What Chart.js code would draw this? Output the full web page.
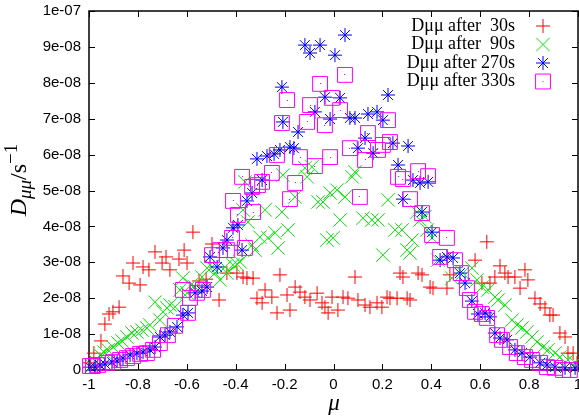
<!DOCTYPE html>
<html>
<head>
<meta charset="utf-8">
<script src="https://cdn.jsdelivr.net/npm/chart.js@4.4.1/dist/chart.umd.min.js"></script>
<style>
  html, body { margin: 0; padding: 0; background: #fff; }
  #c { display: block; }
</style>
</head>
<body>
<canvas id="c" width="579" height="418"></canvas>
<script>
// values of D in units of 1e-8 s^-1
const seriesLabels = ["D\u03bc\u03bc after  30s", "D\u03bc\u03bc after  90s", "D\u03bc\u03bc after 270s", "D\u03bc\u03bc after 330s"];

const muRed = [-0.996,-0.980,-0.951,-0.935,-0.918,-0.902,-0.877,-0.861,-0.836,-0.820,-0.791,-0.779,-0.755,-0.730,-0.701,-0.685,-0.669,-0.632,-0.611,-0.599,
  -0.575,-0.550,-0.521,-0.497,-0.468,-0.436,-0.395,-0.370,-0.354,-0.329,-0.313,-0.292,-0.280,-0.252,-0.231,-0.219,-0.190,-0.178,-0.157,-0.137,
  -0.117,-0.096,-0.067,-0.047,-0.035,-0.022,-0.006,0.018,0.039,0.059,0.088,0.100,0.129,0.149,0.178,0.198,0.219,0.231,0.260,0.272,
  0.284,0.301,0.313,0.346,0.362,0.395,0.407,0.464,0.476,0.579,0.607,0.627,0.640,0.660,0.681,0.701,0.714,0.742,0.763,0.783,
  0.795,0.824,0.845,0.865,0.885,0.898,0.926,0.947,0.959,0.980,0.996];
const dRed = [0.20,0.47,0.81,1.28,1.56,1.62,1.75,2.62,2.42,2.98,2.37,2.87,2.79,3.29,2.98,3.15,2.79,3.09,3.34,2.98,
  3.84,2.48,2.53,3.51,1.95,2.70,2.70,2.59,2.56,2.56,2.00,1.87,2.23,2.03,1.59,2.65,2.09,1.67,2.31,2.17,
  2.03,1.95,2.14,1.87,1.75,1.59,2.03,1.67,2.03,2.00,2.59,1.95,1.81,1.75,1.87,1.75,2.03,2.00,2.00,2.70,
  2.59,2.00,1.95,2.70,2.65,2.31,2.28,2.28,2.65,3.06,2.42,3.57,2.42,2.59,2.90,2.70,2.59,2.59,2.28,2.79,
  2.51,2.00,1.84,1.73,1.53,1.53,1.03,0.92,0.47,0.47,0.20];

const muGreen = [-0.988,-0.971,-0.955,-0.939,-0.922,-0.902,-0.881,-0.865,-0.845,-0.824,-0.804,-0.783,-0.763,-0.751,-0.730,-0.710,-0.697,-0.681,-0.669,-0.648,
  -0.628,-0.616,-0.599,-0.583,-0.566,-0.538,-0.517,-0.497,-0.485,-0.464,-0.444,-0.436,-0.411,-0.395,-0.382,-0.370,-0.362,-0.350,-0.333,-0.321,
  -0.301,-0.280,-0.268,-0.239,-0.227,-0.211,-0.207,-0.186,-0.157,-0.117,-0.108,-0.088,-0.063,-0.043,-0.027,-0.014,-0.002,0.014,0.027,0.047,
  0.076,0.088,0.121,0.157,0.182,0.202,0.223,0.252,0.280,0.301,0.313,0.321,0.342,0.354,0.374,0.382,0.403,0.427,0.484,0.529,
  0.566,0.587,0.607,0.632,0.660,0.673,0.701,0.730,0.750,0.771,0.791,0.812,0.832,0.857,0.877,0.906,0.926,0.959,0.988];
const dGreen = [0.11,0.22,0.42,0.50,0.56,0.64,0.75,0.81,0.92,1.03,1.06,1.11,1.17,1.25,1.89,1.39,1.62,1.73,1.81,1.76,
  2.23,2.56,2.15,2.37,2.31,2.59,2.84,2.87,2.70,2.51,2.87,2.70,2.93,2.95,3.01,4.46,5.24,4.12,3.48,3.34,
  3.70,4.46,3.68,3.82,3.40,4.40,5.43,3.90,4.82,5.63,5.38,5.66,4.68,4.68,3.62,4.93,3.68,5.01,4.18,4.82,
  5.38,5.52,4.23,4.18,4.18,3.20,4.74,3.90,3.90,3.34,3.26,3.62,4.40,4.18,4.27,3.90,3.68,3.06,2.56,2.70,
  2.84,2.51,2.31,2.23,2.03,1.95,1.81,1.39,1.25,1.17,1.06,0.92,0.78,0.64,0.56,0.47,0.36,0.28,0.20];

const muBlue = [-0.996,-0.975,-0.955,-0.935,-0.906,-0.885,-0.861,-0.832,-0.804,-0.779,-0.751,-0.730,-0.710,-0.689,-0.669,-0.640,-0.616,-0.595,-0.566,-0.538,
  -0.517,-0.505,-0.476,-0.452,-0.436,-0.411,-0.391,-0.374,-0.354,-0.333,-0.313,-0.292,-0.272,-0.243,-0.219,-0.211,-0.207,-0.178,-0.162,-0.145,
  -0.117,-0.096,-0.076,-0.055,-0.035,-0.014,0.006,0.027,0.047,0.067,0.088,0.100,0.129,0.141,0.162,0.178,0.202,0.223,0.243,0.264,
  0.284,0.305,0.325,0.354,0.362,0.387,0.403,0.436,0.464,0.489,0.517,0.538,0.566,0.591,0.620,0.640,0.660,0.681,0.710,0.742,
  0.771,0.804,0.845,0.873,0.906,0.947,0.988];
const dBlue = [0.08,0.08,0.14,0.17,0.22,0.25,0.33,0.42,0.47,0.50,0.56,0.64,0.92,0.97,1.06,1.20,1.53,1.59,2.15,2.20,
  2.31,3.15,2.87,3.40,3.62,3.96,4.04,3.34,4.71,4.93,5.88,5.29,5.96,6.02,6.13,7.88,6.91,6.21,6.18,6.63,
  9.05,8.83,7.19,9.05,7.60,6.99,8.77,7.58,9.33,7.02,7.02,6.18,6.46,7.13,6.04,7.19,6.96,7.66,6.32,5.71,
  4.76,6.24,5.29,5.21,4.40,5.24,3.84,3.06,3.15,3.12,2.70,2.42,1.92,1.56,1.59,1.48,1.03,0.89,0.84,0.56,
  0.47,0.36,0.20,0.14,0.08,0.06,0.06];

const muMagenta = [-0.996,-0.984,-0.963,-0.926,-0.902,-0.873,-0.845,-0.820,-0.791,-0.763,-0.738,-0.710,-0.677,-0.648,-0.616,-0.595,-0.587,-0.558,-0.534,-0.497,
  -0.464,-0.436,-0.415,-0.411,-0.391,-0.374,-0.362,-0.333,-0.329,-0.309,-0.292,-0.252,-0.231,-0.211,-0.190,-0.178,-0.157,-0.137,-0.108,-0.096,
  -0.076,-0.055,-0.035,-0.014,-0.006,0.027,0.047,0.067,0.108,0.129,0.141,0.182,0.202,0.223,0.231,0.264,0.284,0.313,0.346,0.362,
  0.387,0.403,0.436,0.464,0.497,0.521,0.546,0.558,0.579,0.607,0.628,0.669,0.689,0.722,0.750,0.783,0.812,0.845,0.873,0.906,
  0.939,0.967];
const dMagenta = [0.11,0.11,0.14,0.20,0.22,0.28,0.33,0.39,0.45,0.47,0.56,0.75,0.97,1.23,2.23,1.59,2.01,2.15,2.23,3.20,
  3.34,3.34,3.68,4.71,4.32,5.38,3.40,5.10,4.40,5.15,5.24,5.49,5.99,6.88,7.52,4.76,5.21,5.93,6.91,7.38,
  5.68,7.97,6.82,5.93,7.58,7.24,8.22,6.18,4.82,5.85,6.60,6.13,6.27,6.96,6.35,5.38,5.32,4.76,5.54,4.37,
  5.40,3.76,3.15,3.68,3.06,2.70,2.28,1.95,1.62,1.56,1.45,0.97,0.84,0.64,0.47,0.36,0.28,0.20,0.08,0.06,
  0.00,0.00];

const yTickValues = [0,1,2,3,4,5,6,7,8,9,10];

function toPoints(mu, d) {
  return mu.map((m, i) => ({ x: m, y: d[i] }));
}

function yLabel(v) {
  let n = Math.round(v);
  if (n === 0) return "0";
  if (n === 10) return "1e-07";
  return n + "e-08";
}

const styles = [
  { color: "#ff0000", pointStyle: "cross", radius: 7, dot: 0 },
  { color: "#00ee00", pointStyle: "crossRot", radius: 9.5, dot: 0 },
  { color: "#0000ff", pointStyle: "star", radius: 7, dot: 2 },
  { color: "#ff00ff", pointStyle: "rect", radius: 10.5, dot: 1 }
];

const allData = [toPoints(muRed, dRed), toPoints(muGreen, dGreen), toPoints(muBlue, dBlue), toPoints(muMagenta, dMagenta)];

let datasets = [];
for (let i = 0; i < allData.length; i++) {
  datasets.push({
    label: seriesLabels[i],
    data: allData[i],
    pointStyle: styles[i].pointStyle,
    pointRadius: styles[i].radius,
    pointHoverRadius: styles[i].radius,
    borderColor: styles[i].color,
    backgroundColor: "rgba(0,0,0,0)",
    pointBorderWidth: 1,
    showLine: false,
    clip: false,
    order: 4 - i
  });
}

// frame with inward ticks on all four sides, like gnuplot
const framePlugin = {
  id: "frame",
  beforeDatasetsDraw(chart) {
    const ctx = chart.ctx;
    const a = chart.chartArea;
    const xs = chart.scales.x, ys = chart.scales.y;
    ctx.save();
    ctx.strokeStyle = "#000";
    ctx.lineWidth = 1;
    ctx.beginPath();
    for (const t of xs.ticks) {
      let px = Math.round(xs.getPixelForValue(t.value)) + 0.5;
      ctx.moveTo(px, a.bottom); ctx.lineTo(px, a.bottom - 6);
      ctx.moveTo(px, a.top); ctx.lineTo(px, a.top + 6);
    }
    for (const t of ys.ticks) {
      let py = Math.round(ys.getPixelForValue(t.value)) + 0.5;
      ctx.moveTo(a.left, py); ctx.lineTo(a.left + 6, py);
      ctx.moveTo(a.right, py); ctx.lineTo(a.right - 6, py);
    }
    ctx.stroke();
    ctx.lineWidth = 1.5;
    ctx.strokeRect(a.left, a.top, a.right - a.left, a.bottom - a.top);
    ctx.restore();
  },
  afterDatasetsDraw(chart) {
    const ctx = chart.ctx;
    ctx.save();
    chart.data.datasets.forEach((ds, i) => {
      let s = styles[i];
      if (!s.dot) return;
      ctx.fillStyle = s.color;
      for (const el of chart.getDatasetMeta(i).data) {
        ctx.fillRect(Math.round(el.x - s.dot / 2), Math.round(el.y - s.dot / 2), s.dot, s.dot);
      }
    });
    ctx.restore();
  },
  afterDraw(chart) {
    const ctx = chart.ctx;
    ctx.save();
    // legend
    ctx.font = "18px 'Liberation Serif'";
    ctx.fillStyle = "#000";
    ctx.textAlign = "right";
    ctx.textBaseline = "middle";
    for (let i = 0; i < seriesLabels.length; i++) {
      let y = 26 + i * 18.5;
      ctx.fillText(seriesLabels[i], 515, y);
      let s = styles[i];
      ctx.strokeStyle = s.color;
      ctx.fillStyle = "rgba(0,0,0,0)";
      ctx.lineWidth = 1;
      Chart.helpers.drawPoint(ctx, { pointStyle: s.pointStyle, radius: s.radius, rotation: 0, borderWidth: 1 }, 543, y);
      if (s.dot) {
        ctx.fillStyle = s.color;
        ctx.fillRect(543 - s.dot / 2, Math.round(y - s.dot / 2), s.dot, s.dot);
      }
      ctx.fillStyle = "#000";
    }
    // x title
    ctx.textAlign = "center";
    ctx.textBaseline = "alphabetic";
    ctx.font = "italic 23px 'Liberation Serif'";
    ctx.fillText("\u03bc", 334, 410);
    // y title, rotated
    ctx.translate(26, 180);
    ctx.rotate(-Math.PI / 2);
    const parts = [
      { t: "D", f: "italic 24px 'Liberation Serif'", dy: 0 },
      { t: "\u03bc\u03bc", f: "italic 19px 'Liberation Serif'", dy: 5 },
      { t: "/s", f: "24px 'Liberation Serif'", dy: 0 },
      { t: "\u2212", f: "19px 'Liberation Serif'", dy: -9 },
      { t: "1", f: "19px 'Liberation Serif'", dy: -9 }
    ];
    let total = 0;
    for (const p of parts) { ctx.font = p.f; p.w = ctx.measureText(p.t).width; total += p.w; }
    let x = -total / 2;
    ctx.textAlign = "left";
    for (const p of parts) {
      ctx.font = p.f;
      ctx.fillText(p.t, x, p.dy);
      x += p.w;
    }
    ctx.restore();
  }
};

new Chart(document.getElementById("c"), {
  type: "scatter",
  data: { datasets: datasets },
  options: {
    responsive: false,
    devicePixelRatio: 1,
    animation: false,
    events: [],
    layout: { autoPadding: false, padding: { top: 11, right: 1, left: 0, bottom: 0 } },
    plugins: { legend: { display: false }, tooltip: { enabled: false } },
    scales: {
      x: {
        type: "linear",
        min: -1, max: 1,
        grid: { display: false, drawTicks: false },
        border: { display: false },
        afterFit(scale) { scale.height = 48; scale.paddingLeft = 0; scale.paddingRight = 0; },
        ticks: {
          stepSize: 0.2,
          padding: 6,
          color: "#000",
          font: { family: "'Liberation Sans'", size: 15 },
          callback: (v) => String(Math.round(v * 10) / 10)
        }
      },
      y: {
        type: "linear",
        min: 0, max: 10,
        grid: { display: false, drawTicks: false },
        border: { display: false },
        afterFit(scale) { scale.width = 89; scale.paddingTop = 0; scale.paddingBottom = 0; },
        afterBuildTicks(scale) { scale.ticks = yTickValues.map(v => ({ value: v })); },
        ticks: {
          padding: 8,
          color: "#000",
          font: { family: "'Liberation Sans'", size: 15 },
          callback: yLabel
        }
      }
    }
  },
  plugins: [framePlugin]
});
</script>
</body>
</html>
